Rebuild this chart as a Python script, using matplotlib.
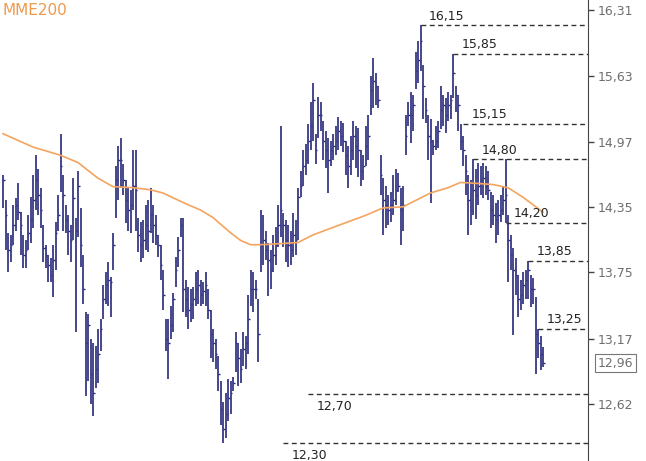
import matplotlib
matplotlib.use('Agg')
import matplotlib.pyplot as plt
from matplotlib.ticker import FixedLocator, NullLocator

# Barres HLC (cours haut / bas / cloture)
highs = [
    14.65, 14.41, 14.11, 14.09, 14.37, 14.43, 14.57, 14.30, 14.09, 14.04,
    14.27, 14.44, 14.65, 14.84, 14.71, 14.53, 14.18, 14.00, 13.91, 13.88,
    14.00, 14.21, 14.46, 15.05, 14.65, 14.37, 14.27, 14.18, 14.62, 14.25,
    14.69, 14.34, 13.91, 13.40, 13.38, 13.17, 13.13, 13.11, 13.25, 13.34,
    13.64, 13.75, 13.84, 13.71, 14.11, 14.74, 14.93, 15.01, 14.76, 14.60,
    14.53, 14.51, 14.89, 14.89, 14.25, 14.21, 14.23, 14.37, 14.41, 14.53,
    14.37, 14.27, 14.09, 14.00, 13.77, 13.34, 13.34, 13.45, 13.57, 13.89,
    14.07, 14.25, 14.25, 13.68, 13.62, 13.60, 13.62, 13.75, 13.77, 13.68,
    13.66, 13.75, 13.60, 13.42, 13.25, 13.17, 13.02, 12.81, 12.64, 12.71,
    12.83, 12.81, 12.84, 13.23, 13.13, 13.08, 13.23, 13.19, 13.55, 13.77,
    13.75, 13.68, 13.51, 14.32, 14.27, 14.13, 14.02, 13.95, 14.09, 14.16,
    14.37, 15.13, 14.29, 14.23, 14.18, 14.13, 14.29, 14.23, 14.53, 14.69,
    14.89, 14.95, 15.15, 15.36, 15.56, 15.05, 15.41, 15.36, 15.18, 15.08,
    15.01, 14.98, 15.05, 15.13, 15.21, 15.18, 15.16, 14.98, 14.93, 15.03,
    15.18, 15.13, 15.11, 14.89, 14.84, 15.13, 15.23, 15.63, 15.81, 15.66,
    15.53, 14.84, 14.62, 14.55, 14.46, 14.49, 14.65, 14.71, 14.67, 14.53,
    14.55, 15.23, 15.36, 15.46, 15.43, 15.87, 15.99, 16.15, 15.74, 15.40,
    15.23, 15.20, 14.99, 15.13, 15.18, 15.53, 15.43, 15.40, 15.46, 15.43,
    15.85, 15.53, 15.43, 15.15, 15.03, 14.84, 14.65, 14.60, 14.80, 14.71,
    14.77, 14.74, 14.77, 14.74, 14.69, 14.49, 14.46, 14.39, 14.41, 14.46,
    14.55, 14.80, 14.27, 14.09, 13.97, 13.88, 13.73, 13.68, 13.75, 13.77,
    13.85, 13.73, 13.70, 13.53, 13.25, 13.19, 13.10,
]
lows = [
    14.34, 13.95, 13.75, 13.84, 14.00, 14.13, 14.23, 13.91, 13.79, 13.79,
    13.95, 14.02, 14.15, 14.32, 14.27, 14.15, 13.84, 13.79, 13.66, 13.66,
    13.53, 13.77, 14.13, 14.49, 14.13, 14.11, 13.91, 13.84, 14.04, 13.23,
    14.07, 13.80, 13.47, 12.69, 12.81, 12.62, 12.52, 12.75, 12.79, 13.06,
    13.34, 13.47, 13.45, 13.36, 13.77, 14.25, 14.41, 14.53, 14.46, 14.20,
    14.13, 14.11, 14.32, 14.13, 13.93, 13.84, 13.88, 13.95, 13.93, 14.11,
    14.02, 14.00, 13.89, 13.68, 13.42, 13.06, 12.83, 13.17, 13.23, 13.62,
    13.80, 14.07, 13.40, 13.36, 13.25, 13.31, 13.34, 13.45, 13.47, 13.45,
    13.47, 13.45, 13.34, 13.00, 12.97, 12.91, 12.73, 12.45, 12.30, 12.34,
    12.48, 12.54, 12.73, 12.89, 12.77, 12.79, 12.94, 12.91, 13.04, 13.45,
    13.40, 13.51, 12.97, 13.75, 13.82, 13.86, 13.54, 13.60, 13.75, 13.82,
    13.98, 14.07, 13.98, 13.84, 13.80, 13.82, 13.89, 13.91, 14.04, 14.44,
    14.55, 14.65, 14.76, 14.89, 14.98, 14.76, 15.01, 15.08, 14.79, 14.72,
    14.48, 14.74, 14.79, 14.84, 14.89, 14.93, 14.87, 14.65, 14.53, 14.65,
    14.79, 14.72, 14.63, 14.55, 14.60, 14.74, 14.79, 15.23, 15.30, 15.33,
    15.30, 14.46, 14.09, 14.15, 14.18, 14.21, 14.27, 14.37, 14.49, 14.00,
    14.13, 14.84, 15.13, 14.96, 15.08, 15.50, 15.56, 15.68, 15.20, 15.16,
    14.79, 14.39, 14.84, 14.89, 14.91, 15.10, 15.13, 15.06, 15.18, 15.20,
    15.40, 15.26, 15.08, 14.89, 14.74, 14.46, 14.09, 14.18, 14.27, 14.24,
    14.37, 14.46, 14.43, 14.46, 14.41, 14.15, 14.18, 14.02, 14.09, 14.21,
    14.27, 14.20, 13.66, 13.77, 13.20, 13.55, 13.36, 13.42, 13.47, 13.51,
    13.51, 13.44, 13.47, 12.87, 13.00, 12.90, 12.93,
]
closes = [
    14.60, 14.27, 13.95, 14.00, 14.18, 14.37, 14.30, 14.18, 13.91, 13.95,
    14.11, 14.23, 14.41, 14.60, 14.46, 14.32, 13.97, 13.91, 13.82, 13.73,
    13.86, 14.11, 14.27, 14.74, 14.46, 14.23, 14.13, 14.04, 14.43, 14.13,
    14.55, 14.00, 13.60, 13.13, 13.29, 12.87, 12.71, 12.91, 13.04, 13.25,
    13.51, 13.64, 13.68, 13.66, 14.00, 14.60, 14.79, 14.79, 14.60, 14.41,
    14.32, 14.37, 14.55, 14.51, 14.09, 14.00, 14.04, 14.18, 14.13, 14.27,
    14.18, 14.09, 14.00, 13.82, 13.55, 13.17, 13.13, 13.29, 13.51, 13.77,
    13.95, 14.18, 13.60, 13.51, 13.42, 13.47, 13.51, 13.60, 13.64, 13.55,
    13.58, 13.64, 13.42, 13.21, 13.13, 13.04, 12.87, 12.58, 12.42, 12.54,
    12.67, 12.71, 12.79, 13.13, 13.00, 12.91, 13.08, 13.13, 13.34, 13.60,
    13.60, 13.60, 13.21, 14.00, 14.04, 13.95, 13.86, 13.77, 13.91, 14.00,
    14.18, 14.32, 14.18, 14.04, 14.00, 13.95, 14.09, 14.04, 14.44, 14.55,
    14.74, 14.79, 14.98, 15.13, 15.38, 14.89, 15.23, 15.23, 14.98, 14.89,
    14.79, 14.89, 14.93, 14.98, 15.08, 15.03, 14.98, 14.84, 14.74, 14.89,
    15.03, 14.93, 14.89, 14.69, 14.74, 14.93, 15.03, 15.48, 15.58, 15.53,
    15.38, 14.65, 14.41, 14.37, 14.32, 14.37, 14.41, 14.51, 14.55, 14.32,
    14.37, 15.03, 15.23, 15.23, 15.33, 15.68, 15.79, 15.99, 15.53, 15.28,
    15.03, 14.98, 14.93, 14.98, 15.08, 15.28, 15.33, 15.23, 15.33, 15.38,
    15.66, 15.43, 15.33, 14.98, 14.89, 14.69, 14.41, 14.32, 14.51, 14.46,
    14.55, 14.60, 14.62, 14.55, 14.51, 14.32, 14.27, 14.23, 14.27, 14.32,
    14.41, 14.46, 14.04, 13.91, 13.77, 13.73, 13.51, 13.55, 13.64, 13.68,
    13.77, 13.60, 13.60, 13.21, 13.13, 13.04, 12.96,
]

# Moyenne mobile exponentielle 200
ma_idx = [0, 12, 23, 30, 38, 44, 52, 59, 64, 73, 79, 84, 91, 95, 99, 103, 111,
          118, 124, 131, 138, 145, 152, 160, 171, 178, 183, 190, 196, 202, 208, 216]
ma_vals = [15.05, 14.92, 14.84, 14.77, 14.62, 14.54, 14.53, 14.51, 14.48, 14.38,
           14.32, 14.25, 14.11, 14.04, 14.00, 14.00, 14.01, 14.02, 14.09, 14.15,
           14.21, 14.27, 14.34, 14.35, 14.48, 14.53, 14.58, 14.57, 14.56, 14.53,
           14.44, 14.30]

# Niveaux (support / resistance) et barre de depart
levels = [16.15, 15.85, 15.15, 14.80, 14.20, 13.85, 13.25, 12.70, 12.30]
level_start = [167, 180, 184, 188, 201, 210, 214, 122, 112]
level_below = [False, False, False, False, False, False, False, True, True]

yticks = [12.62, 13.17, 13.75, 14.35, 14.97, 15.63, 16.31]
last_price = 12.96

bar_color = '#27277a'
ma_color = '#f4a45e'
x_max = 234

fig = plt.figure(figsize=(6.46, 4.61), dpi=100)
ax = fig.add_axes([0, 0, 588 / 646, 1])
ax.set_yscale('log')

idx = list(range(len(highs)))
ax.vlines(idx, lows, highs, color=bar_color, linewidth=1.2)
ax.hlines(closes, idx, [i + 0.6 for i in idx], color=bar_color, linewidth=1)

ax.plot(ma_idx, ma_vals, color=ma_color, linewidth=1.2)

for lvl, st, below in zip(levels, level_start, level_below):
    ax.plot([st, x_max], [lvl, lvl], color='#333333', linewidth=1,
            linestyle=(0, (3.5, 2.5)))
    lab = f'{lvl:.2f}'.replace('.', ',')
    if below:
        ax.annotate(lab, xy=(st, lvl), xytext=(6, -4), textcoords='offset points',
                    ha='left', va='top', fontsize=9, color='#222222')
    else:
        ax.annotate(lab, xy=(st, lvl), xytext=(6, 2), textcoords='offset points',
                    ha='left', va='bottom', fontsize=9, color='#222222')

ax.set_xlim(-1.2, x_max)
ax.set_ylim(12.16, 16.42)

for s in ['top', 'bottom', 'left']:
    ax.spines[s].set_visible(False)
ax.spines['right'].set_color('#444444')
ax.set_xticks([])
ax.yaxis.tick_right()
ax.yaxis.set_major_locator(FixedLocator(yticks))
ax.yaxis.set_minor_locator(NullLocator())
ax.set_yticklabels([f'{t:.2f}'.replace('.', ',') for t in yticks])
ax.tick_params(axis='y', length=4, width=1, color='#444444', labelcolor='#6e6e6e',
               labelsize=9, pad=3)

# dernier cours encadre
ax.annotate(f'{last_price:.2f}'.replace('.', ','), xy=(1, last_price),
            xycoords=('axes fraction', 'data'), xytext=(7, 0), textcoords='offset points',
            ha='left', va='center', fontsize=9, color='#6e6e6e',
            bbox=dict(boxstyle='square,pad=0.2', fc='white', ec='#777777', lw=0.8))

fig.text(3 / 646, 1 - 3 / 461, 'MME200', ha='left', va='top', fontsize=11,
         color='#ee9a4d')

fig.savefig('out.png', dpi=100)
